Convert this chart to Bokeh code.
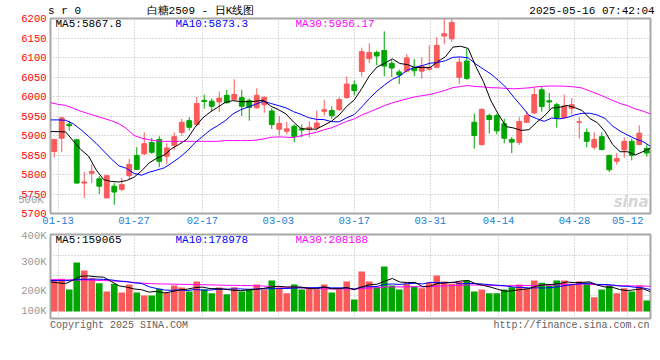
import numpy as np
import pandas as pd
from bokeh.plotting import figure
from bokeh.models import Range1d, FixedTicker, Label, ColumnDataSource, LinearAxis
from bokeh.layouts import column
from bokeh.embed import file_html
from bokeh.resources import INLINE

# ---------------- data ----------------
dates = ["01-10",
         "01-13", "01-14", "01-15", "01-16", "01-17",
         "01-20", "01-21", "01-22", "01-23", "01-24",
         "01-27",
         "02-05", "02-06", "02-07",
         "02-10", "02-11", "02-12", "02-13", "02-14",
         "02-17", "02-18", "02-19", "02-20", "02-21",
         "02-24", "02-25", "02-26", "02-27", "02-28",
         "03-03", "03-04", "03-05", "03-06", "03-07",
         "03-10", "03-11", "03-12", "03-13", "03-14",
         "03-17", "03-18", "03-19", "03-20", "03-21",
         "03-24", "03-25", "03-26", "03-27", "03-28",
         "03-31", "04-01", "04-02", "04-03",
         "04-07", "04-08", "04-09", "04-10", "04-11",
         "04-14", "04-15", "04-16", "04-17", "04-18",
         "04-21", "04-22", "04-23", "04-24", "04-25",
         "04-28", "04-29", "04-30",
         "05-06", "05-07", "05-08", "05-09",
         "05-12", "05-13", "05-14", "05-15"]

opens = [5859, 5893, 5929, 5889, 5778, 5803, 5789, 5740, 5770, 5762,
         5797, 5849, 5853, 5882, 5890, 5847, 5875, 5908, 5938, 5928,
         5990, 5988, 5986, 6003, 5992, 5997, 5990, 5971, 5979, 5963,
         5916, 5911, 5924, 5917, 5915, 5920, 5962, 5964, 5966, 5997,
         6030, 6064, 6097, 6113, 6118, 6085, 6063, 6065, 6073, 6065,
         6070, 6075, 6155, 6148, 6049, 6091, 5934, 5877, 5951, 5951,
         5930, 5890, 5882, 5934, 5958, 6017, 5989, 5979, 5946, 5969,
         5934, 5908, 5870, 5897, 5849, 5834, 5863, 5885, 5877, 5867]
highs = [5890, 5948, 5938, 5891, 5807, 5826, 5796, 5798, 5778, 5791,
         5840, 5870, 5908, 5894, 5898, 5880, 5908, 5943, 5947, 5999,
         6005, 5995, 6013, 6017, 6044, 6017, 5995, 6021, 6000, 5970,
         5950, 5935, 5928, 5928, 5936, 5964, 5991, 5975, 5998, 6051,
         6041, 6125, 6136, 6118, 6167, 6094, 6069, 6109, 6096, 6100,
         6131, 6152, 6199, 6198, 6100, 6122, 5956, 5970, 5956, 5956,
         5943, 5896, 5947, 5962, 6024, 6024, 6009, 5984, 6005, 5996,
         5947, 5918, 5908, 5908, 5851, 5855, 5895, 5892, 5926, 5877]
lows = [5844, 5857, 5912, 5777, 5740, 5778, 5750, 5739, 5722, 5757,
        5788, 5812, 5850, 5853, 5819, 5826, 5862, 5900, 5913, 5925,
        5969, 5962, 5960, 5982, 5990, 5950, 5938, 5969, 5958, 5917,
        5901, 5903, 5883, 5895, 5895, 5912, 5951, 5943, 5963, 5995,
        6003, 6051, 6086, 6080, 6052, 6050, 6032, 6062, 6052, 6046,
        6066, 6072, 6134, 6140, 6032, 6043, 5866, 5873, 5905, 5903,
        5880, 5855, 5876, 5932, 5955, 5961, 5966, 5920, 5944, 5954,
        5892, 5870, 5864, 5862, 5806, 5825, 5843, 5836, 5875, 5846]
closes = [5890, 5945, 5925, 5778, 5781, 5808, 5770, 5797, 5755, 5774,
          5826, 5813, 5879, 5857, 5834, 5868, 5897, 5934, 5921, 5982,
          5987, 5975, 5996, 5984, 6005, 5975, 5972, 6003, 5998, 5928,
          5931, 5917, 5898, 5914, 5921, 5932, 5966, 5951, 5992, 6032,
          6015, 6115, 6113, 6104, 6078, 6073, 6055, 6099, 6066, 6078,
          6074, 6131, 6161, 6190, 6088, 6046, 5900, 5967, 5941, 5912,
          5893, 5883, 5936, 5951, 6005, 5974, 5986, 5945, 5975, 5979,
          5935, 5885, 5890, 5864, 5812, 5841, 5885, 5849, 5906, 5855]
volumes = [256500, 264600, 178200, 396900, 332100, 270000, 229500, 162000, 224100, 153900,
           218700, 153900, 129600, 129600, 183600, 153900, 210600, 194400, 162000, 243000,
           178200, 148500, 194400, 140400, 197100, 162000, 178200, 218700, 178200, 251100,
           194400, 148500, 218700, 178200, 194400, 178200, 218700, 153900, 178200, 243000,
           97200, 324000, 243000, 197100, 364500, 210600, 178200, 224100, 202500, 189000,
           232200, 291600, 243000, 224100, 243000, 251100, 162000, 178200, 148500, 148500,
           178200, 197100, 218700, 183600, 251100, 232200, 210600, 251100, 251100, 224100,
           243000, 232200, 116100, 178200, 210600, 148500, 189000, 162000, 210600, 89100]

# moving-average values shown before a full window of visible bars exists
ma5_head = [5910, 5910, 5909, 5886]
ma10_head = [5940, 5940, 5939, 5930, 5915, 5898, 5880, 5860, 5840]
ma30_head = [5984, 5980, 5977, 5970, 5962, 5956, 5950, 5944, 5938, 5930,
             5918, 5900, 5893, 5889, 5886, 5885, 5885, 5885, 5885, 5885,
             5885, 5885, 5885, 5887, 5887, 5887, 5887, 5888, 5891]
vma5_head = [240000, 232000, 226000, 255000]
vma10_head = [251000, 251000, 250000, 255000, 260000, 262000, 262000, 260000, 256000]
vma30_head = [258000, 258000, 256000, 256000, 255000, 254000, 252000, 250000, 248000, 245000,
              240000, 235000, 230000, 226000, 224000, 223000, 222000, 220000, 219000, 218000,
              217000, 216000, 214000, 213000, 212000, 211000, 210000, 208000, 206000]

tick_labels = ["01-13", "01-27", "02-17", "03-03", "03-17", "03-31", "04-14", "04-28", "05-12"]
price_ticks = [5700, 5750, 5800, 5850, 5900, 5950, 6000, 6050, 6100, 6150, 6200]
vol_tick_labels = ["400K", "300K", "200K", "100K"]
stray_vol_label = "500K"
price_ma_text = ["MA5:5867.8", "MA10:5873.3", "MA30:5956.17"]
vol_ma_text = ["MA5:159065", "MA10:178978", "MA30:208188"]
header_texts = ["s r 0", "白糖2509 - 日K线图", "2025-05-16 07:42:04"]
footer_texts = ["Copyright 2025 SINA.COM", "http://finance.sina.com.cn"]

# ---------------- derived series ----------------
N = len(dates)
idx = np.arange(N)
o = np.array(opens, float); h = np.array(highs, float)
l = np.array(lows, float); c = np.array(closes, float)
v = np.array(volumes, float)


def moving_average(vals, window, head):
    out = pd.Series(vals, dtype=float).rolling(window).mean().to_numpy()
    out[:len(head)] = head
    return out


ma5 = moving_average(c, 5, ma5_head)
ma10 = moving_average(c, 10, ma10_head)
ma30 = moving_average(c, 30, ma30_head)
vma5 = moving_average(v, 5, vma5_head)
vma10 = moving_average(v, 10, vma10_head)
vma30 = moving_average(v, 30, vma30_head)

# Sina draws MA lines and the date grid from edge to edge, bars in slots
line_x = idx * N / (N - 1) - 0.5
tick_pos = [dates.index(d) * N / (N - 1) - 0.5 for d in tick_labels]

RED = "#fa5a5a"
GREEN = "#00a600"
colors = np.where(c >= o, RED, GREEN)

# ---------------- layout helpers (picture pixel -> data) ----------------
FRAME_L, BAR_PX = 50, 600 / N
P_TOP_PX, P_BOT_PX = 18, 213
V_BASE_PX, V_TOP_PX, V_BOT_PX = 311, 234, 318
VOL_PER_PX = 8100
W = 656
H1 = 229
H2 = 121


def X(px):
    return -0.5 + (px - FRAME_L) / BAR_PX


def P(py):
    return price_ticks[-1] - (py - P_TOP_PX) * (price_ticks[-1] - price_ticks[0]) / (P_BOT_PX - P_TOP_PX)


def V(py):
    return (V_BASE_PX - py) * VOL_PER_PX


MONO = "Liberation Mono"
GRID_COLOR = "#b4b4b4"
OUTLINE = "#a8a8a8"


def style_axis(ax):
    ax.major_tick_out = 0
    ax.major_tick_in = 0
    ax.minor_tick_out = 0
    ax.minor_tick_in = 0
    ax.axis_line_color = None


def text_axis(positions, labels, color, size, standoff, font=MONO):
    ax = LinearAxis(ticker=FixedTicker(ticks=positions),
                    major_label_overrides={p_: t for p_, t in zip(positions, labels)})
    ax.major_label_text_color = color
    ax.major_label_text_font = font
    ax.major_label_text_font_size = size
    ax.major_label_standoff = standoff
    style_axis(ax)
    return ax


# ---------------- price panel ----------------
p1 = figure(width=W, height=H1, x_range=Range1d(-0.5, N - 0.5),
            y_range=Range1d(price_ticks[0], price_ticks[-1]),
            x_axis_location="below", y_axis_location="left",
            output_backend="svg", toolbar_location=None,
            min_border_left=FRAME_L, min_border_right=W - FRAME_L - 600,
            min_border_top=P_TOP_PX, min_border_bottom=H1 - P_BOT_PX)
p1.background_fill_color = "white"
p1.border_fill_color = "white"
p1.outline_line_color = OUTLINE
p1.outline_line_width = 2

p1.yaxis.ticker = FixedTicker(ticks=price_ticks)
p1.yaxis.major_label_text_color = "#ff0000"
p1.yaxis.major_label_text_font = MONO
p1.yaxis.major_label_text_font_size = "10.5px"
p1.yaxis.major_label_standoff = 4
style_axis(p1.yaxis)

p1.xaxis.ticker = FixedTicker(ticks=tick_pos)
p1.xaxis.major_label_overrides = {tp: lab for tp, lab in zip(tick_pos, tick_labels)}
p1.xaxis.major_label_text_color = "#1a80d8"
p1.xaxis.major_label_text_font = MONO
p1.xaxis.major_label_text_font_size = "10.5px"
p1.xaxis.major_label_standoff = 3
style_axis(p1.xaxis)

# header line: symbol, title, timestamp
p1.add_layout(text_axis([X(64), X(200), X(591.5)], header_texts, "#000000", "11px", 2), "above")
# stray grey volume label that Sina draws next to the price scale
p1.add_layout(text_axis([P(199.5)], [stray_vol_label], "#999999", "10.5px", -25), "left")

p1.ygrid.ticker = FixedTicker(ticks=price_ticks[1:-1])
p1.xgrid.ticker = FixedTicker(ticks=tick_pos)
for g in (p1.xgrid, p1.ygrid):
    g.grid_line_color = GRID_COLOR
    g.grid_line_dash = "1 2"
    g.grid_line_width = 1

src = ColumnDataSource(dict(x=idx, o=o, h=h, l=l, c=c,
                            top=np.maximum(o, c), bottom=np.minimum(o, c), color=colors))
p1.segment(x0="x", y0="h", x1="x", y1="l", color="color", line_width=1, source=src)
p1.vbar(x="x", width=0.64, top="top", bottom="bottom", fill_color="color",
        line_color="color", line_width=1, source=src)

p1.line(line_x, ma30, color="#ff00ff", line_width=1)
p1.line(line_x, ma10, color="#0000ff", line_width=1)
p1.line(line_x, ma5, color="#000000", line_width=1)

for txt, px, col in zip(price_ma_text, [55, 175, 295], ["#000000", "#0000ff", "#ff00ff"]):
    p1.add_layout(Label(x=X(px), y=P(23.5), text=txt, text_color=col, text_font=MONO,
                        text_font_size="11px", text_baseline="middle", text_align="left"))

p1.add_layout(Label(x=X(648), y=P(201), text="sina", text_color="#d6d6d6",
                    text_font="DejaVu Sans", text_font_style="bold italic",
                    text_font_size="15px", text_baseline="middle", text_align="right"))

# ---------------- volume panel ----------------
p2 = figure(width=W, height=H2, x_range=p1.x_range,
            y_range=Range1d(V(V_BOT_PX), V(V_TOP_PX)),
            x_axis_location=None, y_axis_location="left",
            output_backend="svg", toolbar_location=None,
            min_border_left=FRAME_L, min_border_right=W - FRAME_L - 600,
            min_border_top=V_TOP_PX - H1, min_border_bottom=H1 + H2 - V_BOT_PX)
p2.background_fill_color = "white"
p2.border_fill_color = "white"
p2.outline_line_color = OUTLINE
p2.outline_line_width = 2

vol_tick_vals = [V(234.5), V(261), V(290), V(310)]
p2.yaxis.ticker = FixedTicker(ticks=vol_tick_vals)
p2.yaxis.major_label_overrides = {tv: lab for tv, lab in zip(vol_tick_vals, vol_tick_labels)}
p2.yaxis.major_label_text_color = "#999999"
p2.yaxis.major_label_text_font = MONO
p2.yaxis.major_label_text_font_size = "10.5px"
p2.yaxis.major_label_standoff = 4
style_axis(p2.yaxis)

# footer line: copyright and url
p2.add_layout(text_axis([X(118.5), X(571)], footer_texts, "#606060", "10px", 1), "below")

p2.xgrid.ticker = FixedTicker(ticks=tick_pos)
p2.ygrid.ticker = FixedTicker(ticks=[V(255), V(275), V(295)])
for g in (p2.xgrid, p2.ygrid):
    g.grid_line_color = GRID_COLOR
    g.grid_line_dash = "1 2"
    g.grid_line_width = 1

vsrc = ColumnDataSource(dict(x=idx, v=v, color=colors))
p2.vbar(x="x", width=0.88, top="v", bottom=0, fill_color="color", line_color=None, source=vsrc)

p2.line(line_x, vma30, color="#ff00ff", line_width=1)
p2.line(line_x, vma10, color="#0000ff", line_width=1)
p2.line(line_x, vma5, color="#000000", line_width=1)

for txt, px, col in zip(vol_ma_text, [55, 175, 295], ["#000000", "#0000ff", "#ff00ff"]):
    p2.add_layout(Label(x=X(px), y=V(239), text=txt, text_color=col, text_font=MONO,
                        text_font_size="11px", text_baseline="middle", text_align="left"))

layout = column(p1, p2, spacing=0)
open("out.html", "w").write(file_html(layout, INLINE))
